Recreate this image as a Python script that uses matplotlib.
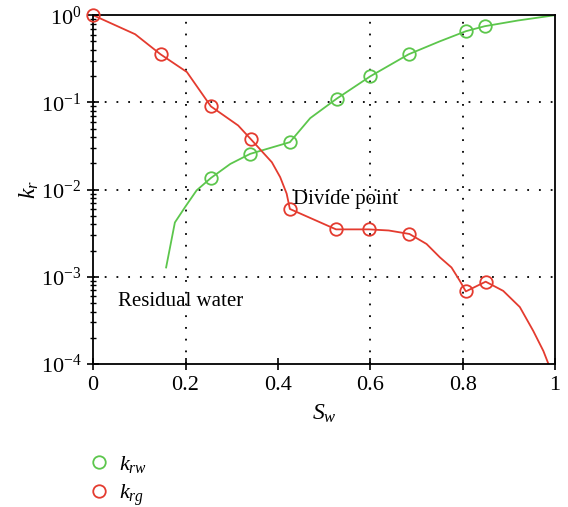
import numpy as np
import matplotlib.pyplot as plt
from matplotlib.lines import Line2D

plt.rcParams.update({'font.family': 'serif'})
plt.rcParams.update({'font.serif': ['Liberation Serif', 'DejaVu Serif']})
plt.rcParams.update({'mathtext.fontset': 'custom'})
plt.rcParams.update({'mathtext.rm': 'Liberation Serif'})
plt.rcParams.update({'mathtext.it': 'Liberation Serif:italic'})

RED = "#e43b2f"
GREEN = "#5cc64c"

# measured points (markers)
sw_rg = [0.0, 0.146, 0.255, 0.342, 0.426, 0.526, 0.597, 0.685, 0.807, 0.850]
k_rg = [1.0, 0.356, 0.090, 0.0376, 0.0060, 0.0035, 0.0035, 0.0031, 0.00068, 0.00088]

sw_rw = [0.255, 0.340, 0.426, 0.527, 0.600, 0.683, 0.807, 0.848]
k_rw = [0.0136, 0.0257, 0.035, 0.110, 0.199, 0.356, 0.655, 0.748]

# fitted curves
sw_rg_line = [0.0, 0.091, 0.146, 0.203, 0.255, 0.314, 0.342, 0.387, 0.405, 0.419,
              0.426, 0.526, 0.597, 0.640, 0.685, 0.722, 0.751, 0.776, 0.794, 0.807,
              0.850, 0.888, 0.924, 0.953, 0.975, 0.986, 0.995]
k_rg_line = [1.0, 0.605, 0.356, 0.223, 0.090, 0.0544, 0.0376, 0.0206, 0.0139, 0.0090,
             0.0060, 0.0035, 0.0035, 0.0034, 0.0031, 0.00238, 0.00167, 0.00128, 0.00090,
             0.00068, 0.00088, 0.00069, 0.00045, 0.00024, 0.000141, 0.0001, 0.00007]

sw_rw_line = [0.158, 0.177, 0.199, 0.224, 0.255, 0.297, 0.340, 0.426, 0.470, 0.527,
              0.600, 0.683, 0.750, 0.807, 0.848, 0.920, 1.0]
k_rw_line = [0.00128, 0.0042, 0.0063, 0.0098, 0.0136, 0.0197, 0.0257, 0.035, 0.066, 0.110,
             0.199, 0.356, 0.50, 0.655, 0.748, 0.87, 1.0]

fig = plt.figure(figsize=(5.68, 5.07), dpi=100)
ax = fig.add_axes([0.164, 0.282, 0.813, 0.688])

dot = (0, (1, 5.5))
for xg in [0.2, 0.6, 0.8]:
    ax.axvline(xg, color="black", lw=1.3, ls=dot, zorder=0)
for yg in [1e-1, 1e-2, 1e-3]:
    ax.axhline(yg, color="black", lw=1.3, ls=dot, zorder=0)

ax.plot(sw_rw_line, k_rw_line, color=GREEN, lw=1.3, zorder=2)
ax.plot(sw_rg_line, k_rg_line, color=RED, lw=1.3, zorder=2)
ax.plot(sw_rw, k_rw, 'o', mfc='none', mec=GREEN, ms=9, mew=1.3, zorder=3, clip_on=False)
ax.plot(sw_rg, k_rg, 'o', mfc='none', mec=RED, ms=9, mew=1.3, zorder=3, clip_on=False)

ax.set_yscale('log')
ax.set_xlim(0, 1)
ax.set_ylim(1e-4, 1)
ax.set_xticks([0, 0.2, 0.4, 0.6, 0.8, 1.0])
ax.set_xticklabels(["0", "0.2", "0.4", "0.6", "0.8", "1"])
ax.tick_params(which='major', direction='inout', length=9, width=1.2, labelsize=16,
               top=False, right=False, pad=4)
ax.tick_params(which='minor', direction='inout', length=5, width=1.0, top=False, right=False)
for s in ax.spines.values():
    s.set_linewidth(1.3)

ax.text(0.433, 0.0077, "Divide point", fontsize=15, ha='left', va='center')
ax.text(0.054, 0.00052, "Residual water", fontsize=15, ha='left', va='center')

ax.set_xlabel(r"$S_w$", fontsize=17, labelpad=6)
ax.set_ylabel(r"$k_r$", fontsize=17, labelpad=0)

handles = [Line2D([], [], ls='none', marker='o', mfc='none', mec=GREEN, ms=9, mew=1.3),
           Line2D([], [], ls='none', marker='o', mfc='none', mec=RED, ms=9, mew=1.3)]
fig.legend(handles, [r"$k_{rw}$", r"$k_{rg}$"], loc='upper left',
           bbox_to_anchor=(0.135, 0.123), frameon=False, fontsize=16,
           handletextpad=0.3, labelspacing=0.35, borderaxespad=0, handlelength=1.2)

fig.savefig("out.png", dpi=100)
